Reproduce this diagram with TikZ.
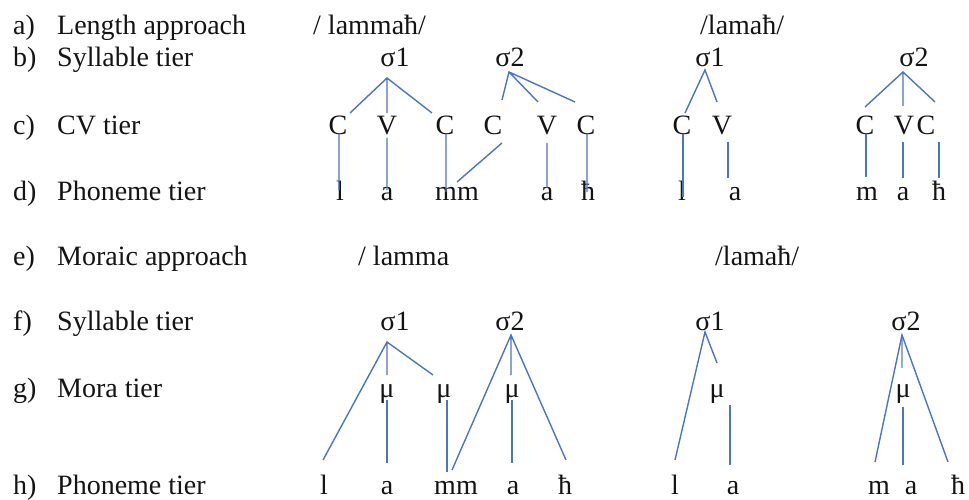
\documentclass[tikz,border=0pt]{standalone}
\usepackage{fontspec}
\setmainfont{Liberation Serif}
\definecolor{lineblue}{RGB}{76,116,198}
\definecolor{ink}{RGB}{20,20,20}
\begin{document}
\begin{tikzpicture}[x=1pt,y=-1pt,
  txt/.style={inner sep=0pt,anchor=base,text=ink,font=\fontsize{28}{30}\selectfont},
  lbl/.style={txt,anchor=base west},
  link/.style={draw=lineblue,line width=1.4pt}]
\useasboundingbox (0,0) rectangle (969,500);
\fill[white] (0,0) rectangle (969,500);
% ---------- left column labels ----------
\node[lbl] (ka) at (13,35) {a)};  \node[lbl] (ta) at (57,35) {Length approach};
\node[lbl] (kb) at (13,67) {b)};  \node[lbl] (tb) at (57,67) {Syllable tier};
\node[lbl] (kc) at (13,135) {c)}; \node[lbl] (tc) at (57,135) {CV tier};
\node[lbl] (kd) at (13,200) {d)}; \node[lbl] (td) at (57,200) {Phoneme tier};
\node[lbl] (ke) at (13,265) {e)}; \node[lbl] (te) at (57,265) {Moraic approach};
\node[lbl] (kf) at (13,330) {f)}; \node[lbl] (tf) at (57,330) {Syllable tier};
\node[lbl] (kg) at (13,397) {g)}; \node[lbl] (tg) at (57,397) {Mora tier};
\node[lbl] (kh) at (13,494) {h)}; \node[lbl] (th) at (57,494) {Phoneme tier};
% ---------- headings ----------
\node[lbl] (w1) at (313,35) {/ lammaħ/};
\node[lbl] (w2) at (700,35) {/lamaħ/};
\node[lbl] (w3) at (358,265) {/ lamma};
\node[lbl] (w4) at (715,265) {/lamaħ/};
% ================= TOP LEFT (length, lammaħ) =================
\node[txt] (As1) at (395,67) {σ1};
\node[txt] (As2) at (510,67) {σ2};
\node[txt] (Ac1) at (338,135) {C};
\node[txt] (Av1) at (387,135) {V};
\node[txt] (Ac2) at (445,135) {C};
\node[txt] (Ac3) at (493,135) {C};
\node[txt] (Av2) at (547,135) {V};
\node[txt] (Ac4) at (586,135) {C};
\node[txt] (Ap1) at (340,200) {l};
\node[txt] (Ap2) at (387,200) {a};
\node[txt] (Ap3) at (457,200) {mm};
\node[txt] (Ap4) at (547,200) {a};
\node[txt] (Ap5) at (588,200) {ħ};
\coordinate (As1x) at (387,78);
\coordinate (As1a) at (350,113); \coordinate (As1b) at (387,113); \coordinate (As1c) at (432,113);
\coordinate (As2x) at (509,72);
\coordinate (As2a) at (502,100); \coordinate (As2b) at (538,102); \coordinate (As2c) at (575,102);
\draw[link] (As1a) -- (As1x) -- (As1c) (As1x) -- (As1b);
\draw[link] (As2a) -- (As2x) -- (As2c) (As2x) -- (As2b);
\coordinate (Ac1t) at (339,134); \coordinate (Ac1b) at (339,190);
\coordinate (Av1t) at (387,138); \coordinate (Av1b) at (387,190);
\coordinate (Ac2t) at (446,134); \coordinate (Ac2b) at (446,192);
\coordinate (Ac3t) at (502,143); \coordinate (Ac3b) at (457,182);
\coordinate (Av2t) at (547,143); \coordinate (Av2b) at (547,188);
\coordinate (Ac4t) at (587,134); \coordinate (Ac4b) at (587,192);
\draw[link] (Ac1t) -- (Ac1b) (Av1t) -- (Av1b) (Ac2t) -- (Ac2b)
            (Ac3t) -- (Ac3b) (Av2t) -- (Av2b) (Ac4t) -- (Ac4b);
% ================= TOP RIGHT (length, lamaħ) =================
\node[txt] (Bs1) at (710,67) {σ1};
\node[txt] (Bs2) at (914,67) {σ2};
\node[txt] (Bc1) at (682,135) {C};
\node[txt] (Bv1) at (722,135) {V};
\node[txt] (Bc2) at (865,135) {C};
\node[txt] (Bv2) at (904,135) {V};
\node[txt] (Bc3) at (926,135) {C};
\node[txt] (Bp1) at (682,200) {l};
\node[txt] (Bp2) at (735,200) {a};
\node[txt] (Bp3) at (867,200) {m};
\node[txt] (Bp4) at (903,200) {a};
\node[txt] (Bp5) at (939,200) {ħ};
\coordinate (Bs1x) at (705,70);
\coordinate (Bs1a) at (685,113); \coordinate (Bs1b) at (717,102);
\coordinate (Bs2x) at (903,72);
\coordinate (Bs2a) at (865,107); \coordinate (Bs2b) at (903,106); \coordinate (Bs2c) at (935,102);
\draw[link] (Bs1a) -- (Bs1x) -- (Bs1b);
\draw[link] (Bs2a) -- (Bs2x) -- (Bs2c) (Bs2x) -- (Bs2b);
\coordinate (Bc1t) at (683,134); \coordinate (Bc1b) at (683,197);
\coordinate (Bv1t) at (728,142); \coordinate (Bv1b) at (728,178);
\coordinate (Bc2t) at (866,134); \coordinate (Bc2b) at (866,177);
\coordinate (Bv2t) at (903,142); \coordinate (Bv2b) at (903,178);
\coordinate (Bc3t) at (939,142); \coordinate (Bc3b) at (939,178);
\draw[link] (Bc1t) -- (Bc1b) (Bv1t) -- (Bv1b) (Bc2t) -- (Bc2b)
            (Bv2t) -- (Bv2b) (Bc3t) -- (Bc3b);
% ================= BOTTOM LEFT (moraic, lamma) =================
\node[txt] (Cs1) at (395,330) {σ1};
\node[txt] (Cs2) at (510,330) {σ2};
\node[txt] (Cm1) at (387,397) {μ};
\node[txt] (Cm2) at (444,397) {μ};
\node[txt] (Cm3) at (512,397) {μ};
\node[txt] (Cp1) at (324,494) {l};
\node[txt] (Cp2) at (387,494) {a};
\node[txt] (Cp3) at (456,494) {mm};
\node[txt] (Cp4) at (513,494) {a};
\node[txt] (Cp5) at (565,494) {ħ};
\coordinate (Cs1x) at (387,342);
\coordinate (Cs1a) at (323,460); \coordinate (Cs1b) at (387,375); \coordinate (Cs1c) at (433,375);
\coordinate (Cs2x) at (511,335);
\coordinate (Cs2a) at (452,470); \coordinate (Cs2b) at (511,375); \coordinate (Cs2c) at (566,460);
\draw[link] (Cs1a) -- (Cs1x) -- (Cs1c) (Cs1x) -- (Cs1b);
\draw[link] (Cs2a) -- (Cs2x) -- (Cs2c) (Cs2x) -- (Cs2b);
\coordinate (Cm1t) at (387,400); \coordinate (Cm1b) at (387,463);
\coordinate (Cm2t) at (447,400); \coordinate (Cm2b) at (447,472);
\coordinate (Cm3t) at (512,400); \coordinate (Cm3b) at (512,463);
\draw[link] (Cm1t) -- (Cm1b) (Cm2t) -- (Cm2b) (Cm3t) -- (Cm3b);
% ================= BOTTOM RIGHT (moraic, lamaħ) =================
\node[txt] (Ds1) at (710,330) {σ1};
\node[txt] (Ds2) at (906,330) {σ2};
\node[txt] (Dm1) at (717,397) {μ};
\node[txt] (Dm2) at (903,397) {μ};
\node[txt] (Dp1) at (675,494) {l};
\node[txt] (Dp2) at (733,494) {a};
\node[txt] (Dp3) at (879,494) {m};
\node[txt] (Dp4) at (911,494) {a};
\node[txt] (Dp5) at (958,494) {ħ};
\coordinate (Ds1x) at (705,332);
\coordinate (Ds1a) at (675,460); \coordinate (Ds1b) at (717,363);
\coordinate (Ds2x) at (902,335);
\coordinate (Ds2a) at (875,462); \coordinate (Ds2b) at (902,368); \coordinate (Ds2c) at (948,462);
\draw[link] (Ds1a) -- (Ds1x) -- (Ds1b);
\draw[link] (Ds2a) -- (Ds2x) -- (Ds2c);
\draw[link,draw opacity=0.6] (Ds2x) -- (Ds2b);
\coordinate (Dm1t) at (730,405); \coordinate (Dm1b) at (730,465);
\coordinate (Dm2t) at (903,407); \coordinate (Dm2b) at (903,465);
\draw[link] (Dm1t) -- (Dm1b) (Dm2t) -- (Dm2b);
\end{tikzpicture}
\end{document}
